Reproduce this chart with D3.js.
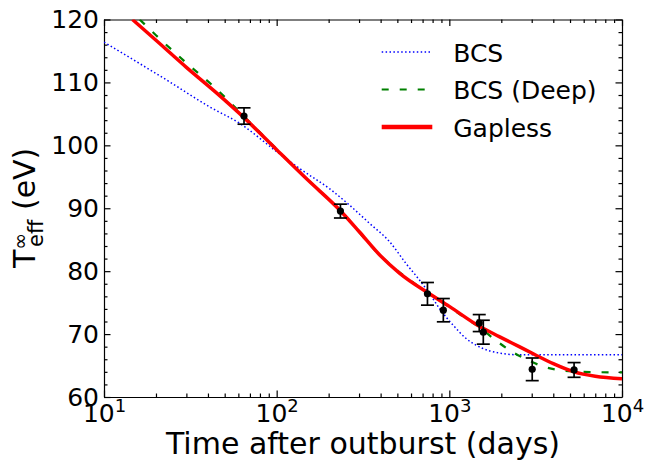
<!DOCTYPE html>
<meta charset="utf-8">

<style type="text/css">

    body {
        margin: 0;
        background: #fff;
    }

    text {
        font-family: "DejaVu Sans", sans-serif;
        fill: #000;
    }

    .axis path, .axis line {
        stroke: #000;
        stroke-width: 1.2;
    }

</style>

<body></body>

<script src="https://d3js.org/d3.v7.min.js"></script>

<script>

// model curves, [days, T_eff (eV)]
var bcs = [[10,116.4],[15,113.5],[23,110.4],[41,106.1],[61,103.5],[100,99.0],[136,96.3],
    [207,92.9],[264,90.5],[345,87.6],[450,84.7],[562,81.2],[671,78.6],[766,76.5],
    [875,74.1],[1069,71.2],[1250,69.3],[1426,68.25],[2032,66.9],[2540,66.7],
    [4000,66.7],[10000,66.7]];

var bcsDeep = [[16.1,120],[20,117.5],[30,113.1],[45,108.9],[64.7,104.6],[100,99.4],
    [150,94.65],[234,89.6],[394,82.6],[747,76.6],[1000,74.3],[1200,72.8],[1524,70.9],
    [1780,69.4],[2275,67.3],[2836,65.9],[3540,64.8],[4520,64.2],[5900,64.0],[10000,63.9]];

var gapless = [[14.6,120],[20,116.7],[30,112.4],[45,108.3],[64.7,104.4],[100,99.3],
    [150,94.6],[234,89.6],[300,86.3],[394,82.6],[514,79.7],[747,76.6],[1000,74.4],
    [1500,71.2],[1945,69.6],[2540,68.0],[3100,66.8],[4000,65.3],[5280,64.0],
    [7000,63.3],[10000,62.9]];

// observations
var obsDays = [64.7, 234, 747, 923, 1490, 1573, 3020, 5278];
var obsTemp = [104.66, 89.55, 76.4, 73.8, 71.75, 70.3, 64.4, 64.3];
var obsErr  = [1.3, 1.1, 1.8, 1.85, 1.35, 1.9, 1.8, 1.17];

var yTicks = [60, 70, 80, 90, 100, 110, 120];
var xMajor = [10, 100, 1000, 10000];

var legendNames = ["BCS", "BCS (Deep)", "Gapless"];

var margin = {top: 19.5, right: 37, bottom: 63, left: 104};

var w = 659 - margin.left - margin.right,
    h = 460 - margin.top - margin.bottom;

var svg = d3.select("body").append("svg")
        .attr("width", 659)
        .attr("height", 460)
        .append("g")
        .attr("transform", "translate(" + margin.left + "," + margin.top + ")");

var xscale = d3.scaleLog()
    .domain([10, 10000])
    .range([0, w]);

var yscale = d3.scaleLinear()
    .domain([60, 120])
    .range([h, 0]);

// minor ticks 2..9 in each decade, every 2 eV on y
var xMinor = [];
xMajor.slice(0, 3).forEach(function(d) {
    for (var k = 2; k < 10; k++) xMinor.push(d * k);
});
var yMinor = d3.range(60, 121, 2).filter(function(d) { return d % 10 != 0; });

function addAxis(axis, tr, minor) {
    var g = svg.append("g")
        .attr("class", "axis")
        .attr("transform", tr)
        .call(axis);
    g.attr("font-size", 25).attr("font-family", null);
    if (minor) g.select("path.domain").remove();
    return g;
}

// minor ticks
addAxis(d3.axisBottom(xscale).tickValues(xMinor).tickSize(-3.5).tickFormat(""), "translate(0," + h + ")", true);
addAxis(d3.axisTop(xscale).tickValues(xMinor).tickSize(-3.5).tickFormat(""), "translate(0,0)", true);
addAxis(d3.axisLeft(yscale).tickValues(yMinor).tickSize(-3.5).tickFormat(""), "translate(0,0)", true);
addAxis(d3.axisRight(yscale).tickValues(yMinor).tickSize(-3.5).tickFormat(""), "translate(" + w + ",0)", true);

// major ticks + frame
var xb = addAxis(d3.axisBottom(xscale).tickValues(xMajor).tickSize(-6.5).tickSizeOuter(0).tickPadding(7)
    .tickFormat(function() { return ""; }), "translate(0," + h + ")");
addAxis(d3.axisTop(xscale).tickValues(xMajor).tickSize(-6.5).tickSizeOuter(0).tickFormat(""), "translate(0,0)");
addAxis(d3.axisLeft(yscale).tickValues(yTicks).tickSize(-6.5).tickSizeOuter(0).tickPadding(5), "translate(0,0)");
addAxis(d3.axisRight(yscale).tickValues(yTicks).tickSize(-6.5).tickSizeOuter(0).tickFormat(""), "translate(" + w + ",0)");

// x tick labels as 10^n
xb.selectAll(".tick text").each(function(d) {
    var t = d3.select(this);
    t.text("10");
    t.append("tspan")
        .attr("dy", -10)
        .attr("font-size", 18)
        .text(Math.round(Math.log10(d)));
});

svg.append("clipPath")
    .attr("id", "clip")
    .append("rect")
    .attr("width", w)
    .attr("height", h);

var line = d3.line()
    .x(function(d) { return xscale(d[0]); })
    .y(function(d) { return yscale(d[1]); })
    .curve(d3.curveMonotoneX);

var styles = [
    {color: "#0000ff", width: 1.5, dash: "1.5,2.4"},
    {color: "#008000", width: 2.2, dash: "7,11"},
    {color: "#ff0000", width: 3.5, dash: null}
];

var curves = svg.append("g").attr("clip-path", "url(#clip)");

[bcs, bcsDeep, gapless].forEach(function(series, i) {
    curves.append("path")
        .datum(series)
        .attr("d", line)
        .attr("fill", "none")
        .attr("stroke", styles[i].color)
        .attr("stroke-width", styles[i].width)
        .attr("stroke-dasharray", styles[i].dash);
});

// error bars
var obs = obsDays.map(function(d, i) {
    return {t: d, T: obsTemp[i], e: obsErr[i]};
});

var bars = svg.append("g")
    .selectAll("g")
    .data(obs)
    .enter()
    .append("g")
    .attr("stroke", "#000")
    .attr("stroke-width", 1.7);

bars.append("line")
    .attr("x1", function(d) { return xscale(d.t); })
    .attr("x2", function(d) { return xscale(d.t); })
    .attr("y1", function(d) { return yscale(d.T - d.e); })
    .attr("y2", function(d) { return yscale(d.T + d.e); });

[-1, 1].forEach(function(s) {
    bars.append("line")
        .attr("x1", function(d) { return xscale(d.t) - 6.5; })
        .attr("x2", function(d) { return xscale(d.t) + 6.5; })
        .attr("y1", function(d) { return yscale(d.T + s * d.e); })
        .attr("y2", function(d) { return yscale(d.T + s * d.e); });
});

bars.append("circle")
    .attr("cx", function(d) { return xscale(d.t); })
    .attr("cy", function(d) { return yscale(d.T); })
    .attr("r", 3.6)
    .attr("fill", "#000")
    .attr("stroke", "none");

// legend
var legend = svg.append("g")
    .attr("transform", "translate(" + (381.7 - margin.left) + "," + (52 - margin.top) + ")");

legendNames.forEach(function(name, i) {
    var y = i * 37.5;
    legend.append("line")
        .attr("x1", 0)
        .attr("x2", 50.6)
        .attr("y1", y)
        .attr("y2", y)
        .attr("stroke", styles[i].color)
        .attr("stroke-width", i == 2 ? 4.5 : styles[i].width)
        .attr("stroke-dasharray", styles[i].dash);
    legend.append("text")
        .attr("x", 71.5)
        .attr("y", y + 9.5)
        .attr("font-size", 25)
        .text(name);
});

// axis labels
svg.append("text")
    .attr("x", w / 2)
    .attr("y", 454 - margin.top)
    .attr("text-anchor", "middle")
    .attr("font-size", 30)
    .text("Time after outburst (days)");

var ylab = svg.append("text")
    .attr("transform", "translate(" + (35 - margin.left) + "," + (268 - margin.top) + ") rotate(-90)")
    .attr("font-size", 30);
ylab.append("tspan").text("T");
ylab.append("tspan").attr("font-size", 20).attr("dy", -8.5).text("\u221e");
ylab.append("tspan").attr("font-size", 21).attr("dx", -14).attr("dy", 16.5).text("eff");
ylab.append("tspan").attr("dy", -8).text(" (eV)");

</script>
